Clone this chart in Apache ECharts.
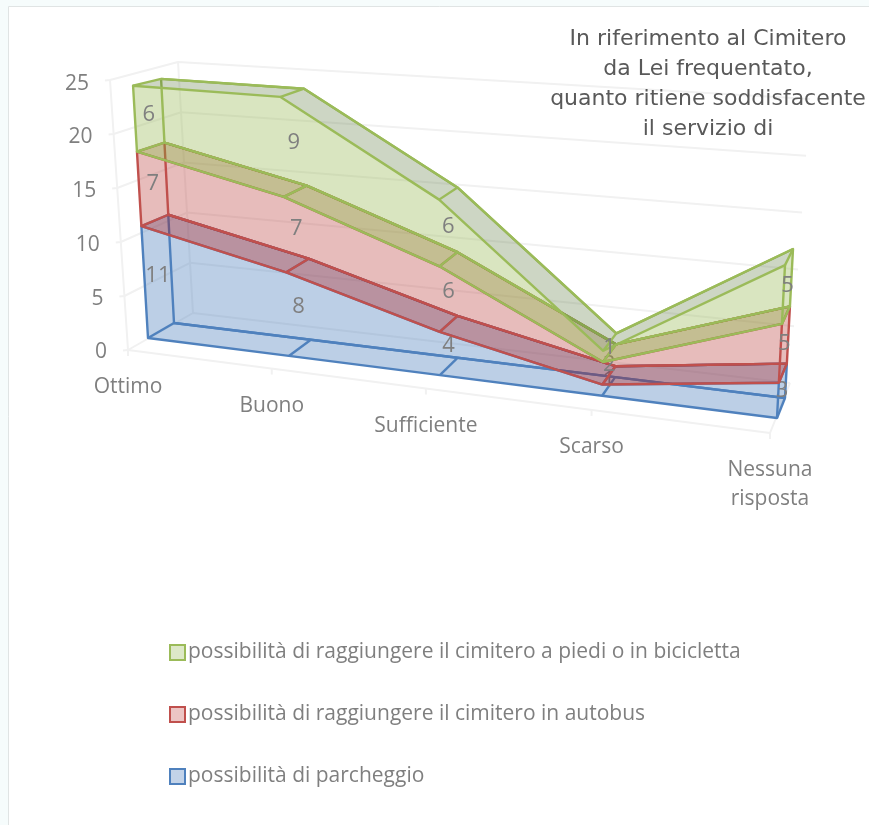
<!DOCTYPE html>
<html><head><meta charset="utf-8">
<style>html,body{margin:0;padding:0;background:#f6fcfc}#c{width:869px;height:825px}</style>
<script src="https://cdn.jsdelivr.net/npm/echarts@6/dist/echarts.min.js"></script>
</head><body><div id="c"></div>
<script>
const categories = ['Ottimo','Buono','Sufficiente','Scarso','Nessuna\nrisposta'];
const parcheggio = [11,8,4,1,3];
const autobus = [7,7,6,2,5];
const piedi = [6,9,6,1,5];
const yTicks = [0,5,10,15,20,25];
const seriesNames = ['possibilità di raggiungere il cimitero a piedi o in bicicletta','possibilità di raggiungere il cimitero in autobus','possibilità di parcheggio'];
const titleText = 'In riferimento al Cimitero\nda Lei frequentato,\nquanto ritiene soddisfacente\nil servizio di';

// invisible base grid; its scales are re-projected onto the 3D box
const G = {left:100, top:100, width:400, height:250};
const K = 1.155;  // perspective along the category axis
const KH = 1.065; // slight vertical perspective at the near-left end
const FRONT = {bl:[148,338], br:[777,418], tl:[132.4,74.5], tr:[792.4,124]};
const BACK  = {bl:[174,323], br:[785,398], tl:[160.5,68],  tr:[800.4,111.5]};
const WALLF = {bl:[128,350], br:[770,433], tl:[110,80],    tr:[790,140]};
const WALLB = {bl:[193,313], br:[790,383], tl:[178,62],    tr:[810,99]};
const FONT = '"Open Sans", sans-serif';
const GREY = '#7f7f7f';

function lerp(a,b,t){return [a[0]+(b[0]-a[0])*t, a[1]+(b[1]-a[1])*t];}
function face(F,t,h){return lerp(lerp(F.bl,F.br,t), lerp(F.tl,F.tr,t), h);}
function norm(pt){
  const u=(pt[0]-G.left)/G.width, h=(G.top+G.height-pt[1])/G.height;
  return {t:u/(u+K*(1-u)), h};
}
function P(pt,A,B,d,curve){
  const n=norm(pt);
  let h=n.h;
  if(curve){const k=KH+(1-KH)*n.t; h=h/(h+k*(1-h));}
  return lerp(face(A,n.t,h), face(B,n.t,h), d);
}
const pF=pt=>P(pt,FRONT,BACK,0,true), pB=pt=>P(pt,FRONT,BACK,1,true), pM=pt=>P(pt,FRONT,BACK,0.5,true);

function stacks(arrs){
  const out=[]; let base=categories.map(()=>0);
  arrs.forEach(a=>{const top=base.map((b,i)=>b+a[i]); out.push({low:base,top,vals:a}); base=top;});
  return out;
}
const S = stacks([parcheggio,autobus,piedi]);

const poly=(points,fill,stroke,lw)=>({type:'polygon',silent:true,shape:{points},style:{fill:fill||'none',stroke:stroke||'none',lineWidth:lw||0,lineJoin:'round'}});
const line=(points,stroke,lw)=>({type:'polyline',silent:true,shape:{points},style:{fill:'none',stroke,lineWidth:lw,lineJoin:'round'}});
const txt=(text,p,align,va,size,lh)=>({type:'text',silent:true,style:{text,x:p[0],y:p[1],fill:GREY,font:size+'px '+FONT,align,verticalAlign:va,lineHeight:lh||size}});

const STYLES = [
 {stroke:'#4f81bd',fill:'rgba(79,129,189,0.38)',endFill:'rgba(79,129,189,0.38)',lowStrip:null,topStrip:null},
 {stroke:'#c0504d',fill:'rgba(192,80,77,0.38)',endFill:'rgba(192,80,77,0.38)',lowStrip:'rgba(80,50,100,0.30)',topStrip:null},
 {stroke:'#9bbb59',fill:'rgba(155,187,89,0.38)',endFill:'rgba(155,187,89,0.38)',lowStrip:'rgba(150,100,40,0.30)',topStrip:'rgba(90,120,60,0.30)'}
];

function prism(k){
  const st=S[k], sty=STYLES[k];
  return function(params,api){
    if(params.dataIndex!==0){
      const i=params.dataIndex;
      return {type:'group',children:[txt(String(st.vals[i]),pM(api.coord([i,(st.low[i]+st.top[i])/2])),'center','middle',22)]};
    }
    const idx=categories.map((c,i)=>i);
    const low=idx.map(i=>api.coord([i,st.low[i]])), top=idx.map(i=>api.coord([i,st.top[i]]));
    const fl=low.map(pF), ft=top.map(pF), bl=low.map(pB), bt=top.map(pB);
    const lastI=idx.length-1, ch=[], w=2.4;
    const strip=(f,b,fill)=>{
      if(fill) ch.push(poly(f.concat(b.slice().reverse()),fill));
      ch.push(line(b,sty.stroke,w));
      idx.forEach(i=>ch.push(line([f[i],b[i]],sty.stroke,w)));
    };
    ch.push(line(bt.concat(bl.slice().reverse()).concat([bt[0]]),sty.stroke,w));
    ch.push(poly(ft.concat(fl.slice().reverse()),sty.fill));
    ch.push(poly([fl[lastI],ft[lastI],bt[lastI],bl[lastI]],sty.endFill));
    strip(fl,bl,sty.lowStrip);
    strip(ft,bt,sty.topStrip);
    ch.push(poly(ft.concat(fl.slice().reverse()),null,sty.stroke,w));
    ch.push(txt(String(st.vals[0]),pM(api.coord([0,(st.low[0]+st.top[0])/2])),'center','middle',22));
    return {type:'group',children:ch};
  };
}

function walls(params,api){
  const v=yTicks[params.dataIndex], ch=[], c='#f1f1f1';
  const W=(i,val,d)=>P(api.coord([i,val]),WALLF,WALLB,d,false);
  const last=categories.length-1;
  const f=W(0,v,0), b=W(0,v,1), e=W(last,v,1);
  ch.push(line([[f[0]-5,f[1]+0.5],f,b,e],c,2));
  ch.push(txt(String(v),[f[0]-21,f[1]+2.5+v*0.05],'right','middle',21));
  if(params.dataIndex===0){
    ch.push(line([W(0,0,0),W(0,yTicks[yTicks.length-1],0)],c,2));
    ch.push(line([W(0,0,1),W(0,yTicks[yTicks.length-1],1)],c,2));
    ch.push(line([W(0,0,0),W(last,0,0),W(last,0,1)],c,2));
    categories.forEach((name,i)=>{
      const p=W(i,0,0);
      ch.push(line([p,[p[0],p[1]+6]],c,2));
      ch.push(txt(name,[p[0],p[1]+23],'center','top',21,29));
    });
  }
  return {type:'group',children:ch};
}

const xy=a=>a.map((v,i)=>[i,v]);
const option={
  animation:false,
  backgroundColor:'transparent',
  grid:Object.assign({containLabel:false},G),
  xAxis:{type:'category',data:categories,boundaryGap:false,show:false},
  yAxis:{type:'value',min:0,max:25,interval:5,show:false},
  title:{text:titleText,left:703,top:19,textAlign:'center',
    textStyle:{fontFamily:'DejaVu Sans',fontWeight:'normal',fontSize:22,lineHeight:30,color:'#595959'}},
  legend:{orient:'vertical',left:164,top:636,itemWidth:15,itemHeight:15,itemGap:39,selectedMode:false,
    textStyle:{fontFamily:FONT,fontSize:21,color:GREY,padding:[0,0,0,-2],lineHeight:23},
    data:[
      {name:seriesNames[0],icon:'rect',itemStyle:{color:'#dde8c8',borderColor:'#9bbb59',borderWidth:2}},
      {name:seriesNames[1],icon:'rect',itemStyle:{color:'#ecc5c4',borderColor:'#c0504d',borderWidth:2}},
      {name:seriesNames[2],icon:'rect',itemStyle:{color:'#c3d3e8',borderColor:'#4f81bd',borderWidth:2}}
    ]},
  graphic:[{type:'rect',z:-10,silent:true,shape:{x:8.5,y:6.5,width:900,height:900},style:{fill:'#fff',stroke:'#e0e4e4',lineWidth:1}}],
  series:[
    {type:'custom',name:'griglia',z:1,silent:true,clip:false,renderItem:walls,encode:{x:0,y:1},data:yTicks.map(v=>[0,v])},
    {type:'custom',name:seriesNames[2],z:2,silent:true,clip:false,renderItem:prism(0),encode:{x:0,y:1},data:xy(parcheggio),itemStyle:{color:'#4f81bd'}},
    {type:'custom',name:seriesNames[1],z:3,silent:true,clip:false,renderItem:prism(1),encode:{x:0,y:1},data:xy(autobus),itemStyle:{color:'#c0504d'}},
    {type:'custom',name:seriesNames[0],z:4,silent:true,clip:false,renderItem:prism(2),encode:{x:0,y:1},data:xy(piedi),itemStyle:{color:'#9bbb59'}}
  ]
};
echarts.init(document.getElementById('c'),null,{renderer:'canvas'}).setOption(option);
</script></body></html>
